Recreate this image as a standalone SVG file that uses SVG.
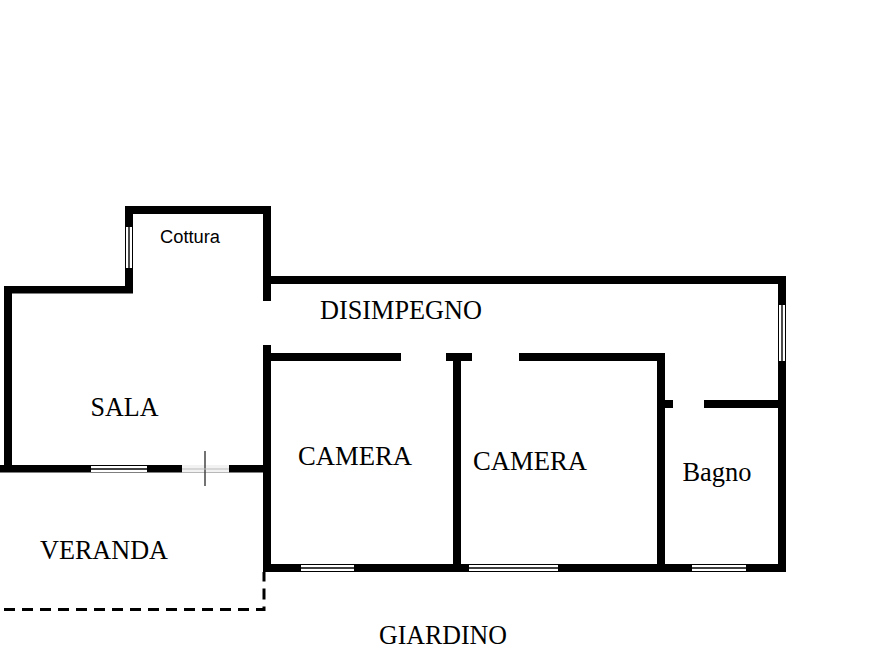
<svg xmlns="http://www.w3.org/2000/svg" width="893" height="670" viewBox="0 0 893 670">
<style>
.w{fill:#000}
.g{fill:#fff}
.l{stroke:#000;stroke-width:1.4;fill:none}
.t{font-family:"Liberation Serif","Times New Roman",serif;font-size:26.300px;fill:#000}
</style>
<rect width="893" height="670" fill="#fff"/>
<g id="walls">
<rect class="w" x="125" y="206" width="146" height="8"/>
<rect class="w" x="125" y="206" width="8" height="87"/>
<rect class="w" x="4" y="286" width="129" height="7.500"/>
<rect class="w" x="4" y="286" width="8" height="186"/>
<rect class="w" x="263" y="206" width="8" height="95"/>
<rect class="w" x="263" y="276" width="523" height="8"/>
<rect class="w" x="778" y="276" width="8" height="296"/>
<rect class="w" x="263" y="345" width="8" height="227"/>
<rect class="w" x="263" y="353" width="138" height="8"/>
<rect class="w" x="446" y="353" width="26" height="8"/>
<rect class="w" x="453" y="353" width="8" height="219"/>
<rect class="w" x="519" y="353" width="146" height="8"/>
<rect class="w" x="657" y="353" width="8" height="219"/>
<rect class="w" x="657" y="400" width="16" height="8"/>
<rect class="w" x="704" y="400" width="78" height="8"/>
<rect class="w" x="0" y="465" width="271" height="7.500"/>
<rect class="w" x="263" y="564" width="523" height="8"/>
</g>
<g id="windows">
<g id="window-cottura"><rect class="g" x="126" y="227" width="6" height="41"/><line class="l" x1="129" y1="227" x2="129" y2="268"/></g>
<g id="window-disimpegno"><rect class="g" x="779" y="305" width="6" height="56"/><line class="l" x1="782" y1="305" x2="782" y2="361"/></g>
<g id="window-sala"><rect class="g" x="91" y="466" width="56" height="6"/><line class="l" x1="91" y1="469" x2="147" y2="469"/></g>
<g id="window-camera1"><rect class="g" x="301" y="565" width="53" height="6"/><line class="l" x1="301" y1="568" x2="354" y2="568"/></g>
<g id="window-camera2"><rect class="g" x="469" y="565" width="89" height="6"/><line class="l" x1="469" y1="568" x2="558" y2="568"/></g>
<g id="window-bagno"><rect class="g" x="692" y="565" width="54" height="6"/><line class="l" x1="692" y1="568" x2="746" y2="568"/></g>
</g>
<g id="door-veranda">
<rect x="182" y="465" width="47" height="7.500" fill="#f2f2f2"/>
<line x1="205" y1="451" x2="205" y2="486" stroke="#444" stroke-width="1.500"/>
<line x1="182" y1="469" x2="229" y2="469" stroke="#bbb" stroke-width="1"/>
</g>
<g id="veranda-outline">
<path d="M4 609.500H264V572" fill="none" stroke="#000" stroke-width="3" stroke-dasharray="11 7"/>
</g>
<g id="labels">
<text x="190" y="242.500" text-anchor="middle" font-family="'Liberation Sans',Arial,sans-serif" font-size="18" fill="#000" textLength="60" lengthAdjust="spacingAndGlyphs">Cottura</text>
<text class="t" x="401" y="319" text-anchor="middle" textLength="162" lengthAdjust="spacingAndGlyphs">DISIMPEGNO</text>
<text class="t" x="124.500" y="416" text-anchor="middle" textLength="68" lengthAdjust="spacingAndGlyphs">SALA</text>
<text class="t" x="355" y="465" text-anchor="middle" textLength="114" lengthAdjust="spacingAndGlyphs">CAMERA</text>
<text class="t" x="530" y="470" text-anchor="middle" textLength="114" lengthAdjust="spacingAndGlyphs">CAMERA</text>
<text class="t" x="717" y="481" text-anchor="middle" textLength="69" lengthAdjust="spacingAndGlyphs">Bagno</text>
<text class="t" x="104" y="559" text-anchor="middle" textLength="128" lengthAdjust="spacingAndGlyphs">VERANDA</text>
<text class="t" x="443" y="644" text-anchor="middle" textLength="128" lengthAdjust="spacingAndGlyphs">GIARDINO</text>
</g>
</svg>
